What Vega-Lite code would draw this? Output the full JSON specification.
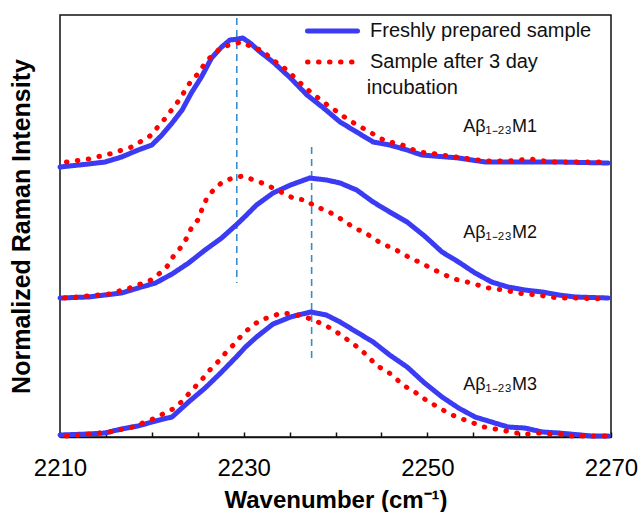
{
  "$schema": "https://vega.github.io/schema/vega-lite/v6.json",
  "width": 551,
  "height": 422,
  "autosize": {"type": "none"},
  "padding": {"left": 60, "top": 15, "right": 27, "bottom": 75},
  "config": {
    "font": "Liberation Sans",
    "view": {"stroke": "#111111", "strokeWidth": 1.5},
    "axis": {"grid": false}
  },
  "datasets": {
    "spectra": [
      {"w": 2210.0, "v": 2.70, "s": "M1", "c": "Freshly prepared sample"},
      {"w": 2213.1, "v": 2.73, "s": "M1", "c": "Freshly prepared sample"},
      {"w": 2214.9, "v": 2.75, "s": "M1", "c": "Freshly prepared sample"},
      {"w": 2216.7, "v": 2.80, "s": "M1", "c": "Freshly prepared sample"},
      {"w": 2218.5, "v": 2.87, "s": "M1", "c": "Freshly prepared sample"},
      {"w": 2220.0, "v": 2.92, "s": "M1", "c": "Freshly prepared sample"},
      {"w": 2221.1, "v": 3.02, "s": "M1", "c": "Freshly prepared sample"},
      {"w": 2222.2, "v": 3.14, "s": "M1", "c": "Freshly prepared sample"},
      {"w": 2223.3, "v": 3.27, "s": "M1", "c": "Freshly prepared sample"},
      {"w": 2224.3, "v": 3.44, "s": "M1", "c": "Freshly prepared sample"},
      {"w": 2225.4, "v": 3.60, "s": "M1", "c": "Freshly prepared sample"},
      {"w": 2226.5, "v": 3.79, "s": "M1", "c": "Freshly prepared sample"},
      {"w": 2227.6, "v": 3.90, "s": "M1", "c": "Freshly prepared sample"},
      {"w": 2228.5, "v": 3.97, "s": "M1", "c": "Freshly prepared sample"},
      {"w": 2229.4, "v": 3.98, "s": "M1", "c": "Freshly prepared sample"},
      {"w": 2229.9, "v": 3.99, "s": "M1", "c": "Freshly prepared sample"},
      {"w": 2230.7, "v": 3.94, "s": "M1", "c": "Freshly prepared sample"},
      {"w": 2231.8, "v": 3.85, "s": "M1", "c": "Freshly prepared sample"},
      {"w": 2233.2, "v": 3.75, "s": "M1", "c": "Freshly prepared sample"},
      {"w": 2235.1, "v": 3.59, "s": "M1", "c": "Freshly prepared sample"},
      {"w": 2236.9, "v": 3.42, "s": "M1", "c": "Freshly prepared sample"},
      {"w": 2238.7, "v": 3.29, "s": "M1", "c": "Freshly prepared sample"},
      {"w": 2240.5, "v": 3.15, "s": "M1", "c": "Freshly prepared sample"},
      {"w": 2242.3, "v": 3.05, "s": "M1", "c": "Freshly prepared sample"},
      {"w": 2244.1, "v": 2.95, "s": "M1", "c": "Freshly prepared sample"},
      {"w": 2245.9, "v": 2.92, "s": "M1", "c": "Freshly prepared sample"},
      {"w": 2247.8, "v": 2.87, "s": "M1", "c": "Freshly prepared sample"},
      {"w": 2249.4, "v": 2.82, "s": "M1", "c": "Freshly prepared sample"},
      {"w": 2253.4, "v": 2.79, "s": "M1", "c": "Freshly prepared sample"},
      {"w": 2256.3, "v": 2.75, "s": "M1", "c": "Freshly prepared sample"},
      {"w": 2260.6, "v": 2.75, "s": "M1", "c": "Freshly prepared sample"},
      {"w": 2264.2, "v": 2.75, "s": "M1", "c": "Freshly prepared sample"},
      {"w": 2269.7, "v": 2.74, "s": "M1", "c": "Freshly prepared sample"},

      {"w": 2210.7, "v": 2.75, "s": "M1", "c": "Sample after 3 day incubation"},
      {"w": 2213.1, "v": 2.78, "s": "M1", "c": "Sample after 3 day incubation"},
      {"w": 2215.4, "v": 2.83, "s": "M1", "c": "Sample after 3 day incubation"},
      {"w": 2217.8, "v": 2.90, "s": "M1", "c": "Sample after 3 day incubation"},
      {"w": 2219.8, "v": 3.01, "s": "M1", "c": "Sample after 3 day incubation"},
      {"w": 2221.4, "v": 3.18, "s": "M1", "c": "Sample after 3 day incubation"},
      {"w": 2222.9, "v": 3.36, "s": "M1", "c": "Sample after 3 day incubation"},
      {"w": 2224.2, "v": 3.55, "s": "M1", "c": "Sample after 3 day incubation"},
      {"w": 2225.1, "v": 3.64, "s": "M1", "c": "Sample after 3 day incubation"},
      {"w": 2225.8, "v": 3.74, "s": "M1", "c": "Sample after 3 day incubation"},
      {"w": 2226.5, "v": 3.81, "s": "M1", "c": "Sample after 3 day incubation"},
      {"w": 2227.5, "v": 3.89, "s": "M1", "c": "Sample after 3 day incubation"},
      {"w": 2228.7, "v": 3.93, "s": "M1", "c": "Sample after 3 day incubation"},
      {"w": 2229.9, "v": 3.95, "s": "M1", "c": "Sample after 3 day incubation"},
      {"w": 2231.0, "v": 3.89, "s": "M1", "c": "Sample after 3 day incubation"},
      {"w": 2232.0, "v": 3.87, "s": "M1", "c": "Sample after 3 day incubation"},
      {"w": 2232.9, "v": 3.79, "s": "M1", "c": "Sample after 3 day incubation"},
      {"w": 2233.8, "v": 3.73, "s": "M1", "c": "Sample after 3 day incubation"},
      {"w": 2234.7, "v": 3.67, "s": "M1", "c": "Sample after 3 day incubation"},
      {"w": 2235.6, "v": 3.59, "s": "M1", "c": "Sample after 3 day incubation"},
      {"w": 2236.5, "v": 3.51, "s": "M1", "c": "Sample after 3 day incubation"},
      {"w": 2237.4, "v": 3.44, "s": "M1", "c": "Sample after 3 day incubation"},
      {"w": 2238.4, "v": 3.37, "s": "M1", "c": "Sample after 3 day incubation"},
      {"w": 2239.4, "v": 3.30, "s": "M1", "c": "Sample after 3 day incubation"},
      {"w": 2240.4, "v": 3.24, "s": "M1", "c": "Sample after 3 day incubation"},
      {"w": 2241.4, "v": 3.17, "s": "M1", "c": "Sample after 3 day incubation"},
      {"w": 2242.4, "v": 3.12, "s": "M1", "c": "Sample after 3 day incubation"},
      {"w": 2243.5, "v": 3.06, "s": "M1", "c": "Sample after 3 day incubation"},
      {"w": 2244.5, "v": 3.01, "s": "M1", "c": "Sample after 3 day incubation"},
      {"w": 2245.6, "v": 2.95, "s": "M1", "c": "Sample after 3 day incubation"},
      {"w": 2246.8, "v": 2.94, "s": "M1", "c": "Sample after 3 day incubation"},
      {"w": 2248.0, "v": 2.89, "s": "M1", "c": "Sample after 3 day incubation"},
      {"w": 2249.1, "v": 2.85, "s": "M1", "c": "Sample after 3 day incubation"},
      {"w": 2250.3, "v": 2.84, "s": "M1", "c": "Sample after 3 day incubation"},
      {"w": 2251.6, "v": 2.82, "s": "M1", "c": "Sample after 3 day incubation"},
      {"w": 2253.9, "v": 2.79, "s": "M1", "c": "Sample after 3 day incubation"},
      {"w": 2256.3, "v": 2.76, "s": "M1", "c": "Sample after 3 day incubation"},
      {"w": 2258.8, "v": 2.76, "s": "M1", "c": "Sample after 3 day incubation"},
      {"w": 2261.2, "v": 2.78, "s": "M1", "c": "Sample after 3 day incubation"},
      {"w": 2263.5, "v": 2.75, "s": "M1", "c": "Sample after 3 day incubation"},
      {"w": 2266.1, "v": 2.75, "s": "M1", "c": "Sample after 3 day incubation"},
      {"w": 2269.5, "v": 2.75, "s": "M1", "c": "Sample after 3 day incubation"},

      {"w": 2210.0, "v": 1.39, "s": "M2", "c": "Freshly prepared sample"},
      {"w": 2213.1, "v": 1.40, "s": "M2", "c": "Freshly prepared sample"},
      {"w": 2216.7, "v": 1.44, "s": "M2", "c": "Freshly prepared sample"},
      {"w": 2218.5, "v": 1.49, "s": "M2", "c": "Freshly prepared sample"},
      {"w": 2220.4, "v": 1.54, "s": "M2", "c": "Freshly prepared sample"},
      {"w": 2222.2, "v": 1.63, "s": "M2", "c": "Freshly prepared sample"},
      {"w": 2224.0, "v": 1.74, "s": "M2", "c": "Freshly prepared sample"},
      {"w": 2225.8, "v": 1.87, "s": "M2", "c": "Freshly prepared sample"},
      {"w": 2227.6, "v": 1.99, "s": "M2", "c": "Freshly prepared sample"},
      {"w": 2229.3, "v": 2.13, "s": "M2", "c": "Freshly prepared sample"},
      {"w": 2230.2, "v": 2.21, "s": "M2", "c": "Freshly prepared sample"},
      {"w": 2231.4, "v": 2.32, "s": "M2", "c": "Freshly prepared sample"},
      {"w": 2233.2, "v": 2.44, "s": "M2", "c": "Freshly prepared sample"},
      {"w": 2235.1, "v": 2.52, "s": "M2", "c": "Freshly prepared sample"},
      {"w": 2237.2, "v": 2.59, "s": "M2", "c": "Freshly prepared sample"},
      {"w": 2239.0, "v": 2.57, "s": "M2", "c": "Freshly prepared sample"},
      {"w": 2240.5, "v": 2.54, "s": "M2", "c": "Freshly prepared sample"},
      {"w": 2242.3, "v": 2.47, "s": "M2", "c": "Freshly prepared sample"},
      {"w": 2244.1, "v": 2.35, "s": "M2", "c": "Freshly prepared sample"},
      {"w": 2245.9, "v": 2.25, "s": "M2", "c": "Freshly prepared sample"},
      {"w": 2247.8, "v": 2.15, "s": "M2", "c": "Freshly prepared sample"},
      {"w": 2249.7, "v": 2.01, "s": "M2", "c": "Freshly prepared sample"},
      {"w": 2251.6, "v": 1.85, "s": "M2", "c": "Freshly prepared sample"},
      {"w": 2253.4, "v": 1.75, "s": "M2", "c": "Freshly prepared sample"},
      {"w": 2255.2, "v": 1.64, "s": "M2", "c": "Freshly prepared sample"},
      {"w": 2257.0, "v": 1.55, "s": "M2", "c": "Freshly prepared sample"},
      {"w": 2258.8, "v": 1.50, "s": "M2", "c": "Freshly prepared sample"},
      {"w": 2260.6, "v": 1.47, "s": "M2", "c": "Freshly prepared sample"},
      {"w": 2262.5, "v": 1.45, "s": "M2", "c": "Freshly prepared sample"},
      {"w": 2264.3, "v": 1.42, "s": "M2", "c": "Freshly prepared sample"},
      {"w": 2266.1, "v": 1.40, "s": "M2", "c": "Freshly prepared sample"},
      {"w": 2269.7, "v": 1.39, "s": "M2", "c": "Freshly prepared sample"},

      {"w": 2210.5, "v": 1.39, "s": "M2", "c": "Sample after 3 day incubation"},
      {"w": 2212.9, "v": 1.41, "s": "M2", "c": "Sample after 3 day incubation"},
      {"w": 2215.3, "v": 1.43, "s": "M2", "c": "Sample after 3 day incubation"},
      {"w": 2217.6, "v": 1.49, "s": "M2", "c": "Sample after 3 day incubation"},
      {"w": 2219.9, "v": 1.57, "s": "M2", "c": "Sample after 3 day incubation"},
      {"w": 2220.9, "v": 1.64, "s": "M2", "c": "Sample after 3 day incubation"},
      {"w": 2221.7, "v": 1.71, "s": "M2", "c": "Sample after 3 day incubation"},
      {"w": 2222.3, "v": 1.80, "s": "M2", "c": "Sample after 3 day incubation"},
      {"w": 2223.1, "v": 1.89, "s": "M2", "c": "Sample after 3 day incubation"},
      {"w": 2223.8, "v": 1.99, "s": "M2", "c": "Sample after 3 day incubation"},
      {"w": 2224.3, "v": 2.09, "s": "M2", "c": "Sample after 3 day incubation"},
      {"w": 2225.1, "v": 2.18, "s": "M2", "c": "Sample after 3 day incubation"},
      {"w": 2225.5, "v": 2.29, "s": "M2", "c": "Sample after 3 day incubation"},
      {"w": 2226.0, "v": 2.39, "s": "M2", "c": "Sample after 3 day incubation"},
      {"w": 2226.8, "v": 2.48, "s": "M2", "c": "Sample after 3 day incubation"},
      {"w": 2227.7, "v": 2.55, "s": "M2", "c": "Sample after 3 day incubation"},
      {"w": 2228.8, "v": 2.59, "s": "M2", "c": "Sample after 3 day incubation"},
      {"w": 2229.9, "v": 2.61, "s": "M2", "c": "Sample after 3 day incubation"},
      {"w": 2231.1, "v": 2.57, "s": "M2", "c": "Sample after 3 day incubation"},
      {"w": 2232.3, "v": 2.53, "s": "M2", "c": "Sample after 3 day incubation"},
      {"w": 2233.4, "v": 2.48, "s": "M2", "c": "Sample after 3 day incubation"},
      {"w": 2234.5, "v": 2.43, "s": "M2", "c": "Sample after 3 day incubation"},
      {"w": 2235.6, "v": 2.38, "s": "M2", "c": "Sample after 3 day incubation"},
      {"w": 2236.8, "v": 2.37, "s": "M2", "c": "Sample after 3 day incubation"},
      {"w": 2237.8, "v": 2.30, "s": "M2", "c": "Sample after 3 day incubation"},
      {"w": 2239.0, "v": 2.27, "s": "M2", "c": "Sample after 3 day incubation"},
      {"w": 2240.0, "v": 2.21, "s": "M2", "c": "Sample after 3 day incubation"},
      {"w": 2241.0, "v": 2.16, "s": "M2", "c": "Sample after 3 day incubation"},
      {"w": 2242.0, "v": 2.09, "s": "M2", "c": "Sample after 3 day incubation"},
      {"w": 2243.1, "v": 2.05, "s": "M2", "c": "Sample after 3 day incubation"},
      {"w": 2244.1, "v": 1.99, "s": "M2", "c": "Sample after 3 day incubation"},
      {"w": 2245.1, "v": 1.93, "s": "M2", "c": "Sample after 3 day incubation"},
      {"w": 2246.2, "v": 1.89, "s": "M2", "c": "Sample after 3 day incubation"},
      {"w": 2247.2, "v": 1.84, "s": "M2", "c": "Sample after 3 day incubation"},
      {"w": 2248.3, "v": 1.78, "s": "M2", "c": "Sample after 3 day incubation"},
      {"w": 2249.4, "v": 1.74, "s": "M2", "c": "Sample after 3 day incubation"},
      {"w": 2250.3, "v": 1.69, "s": "M2", "c": "Sample after 3 day incubation"},
      {"w": 2251.5, "v": 1.64, "s": "M2", "c": "Sample after 3 day incubation"},
      {"w": 2252.6, "v": 1.59, "s": "M2", "c": "Sample after 3 day incubation"},
      {"w": 2253.7, "v": 1.56, "s": "M2", "c": "Sample after 3 day incubation"},
      {"w": 2254.9, "v": 1.54, "s": "M2", "c": "Sample after 3 day incubation"},
      {"w": 2256.1, "v": 1.50, "s": "M2", "c": "Sample after 3 day incubation"},
      {"w": 2257.3, "v": 1.48, "s": "M2", "c": "Sample after 3 day incubation"},
      {"w": 2258.5, "v": 1.47, "s": "M2", "c": "Sample after 3 day incubation"},
      {"w": 2259.7, "v": 1.44, "s": "M2", "c": "Sample after 3 day incubation"},
      {"w": 2260.9, "v": 1.43, "s": "M2", "c": "Sample after 3 day incubation"},
      {"w": 2262.1, "v": 1.42, "s": "M2", "c": "Sample after 3 day incubation"},
      {"w": 2263.3, "v": 1.40, "s": "M2", "c": "Sample after 3 day incubation"},
      {"w": 2264.5, "v": 1.39, "s": "M2", "c": "Sample after 3 day incubation"},
      {"w": 2265.6, "v": 1.39, "s": "M2", "c": "Sample after 3 day incubation"},
      {"w": 2266.8, "v": 1.39, "s": "M2", "c": "Sample after 3 day incubation"},
      {"w": 2268.1, "v": 1.38, "s": "M2", "c": "Sample after 3 day incubation"},
      {"w": 2269.4, "v": 1.39, "s": "M2", "c": "Sample after 3 day incubation"},

      {"w": 2210.0, "v": 0.02, "s": "M3", "c": "Freshly prepared sample"},
      {"w": 2213.1, "v": 0.03, "s": "M3", "c": "Freshly prepared sample"},
      {"w": 2214.9, "v": 0.04, "s": "M3", "c": "Freshly prepared sample"},
      {"w": 2216.7, "v": 0.08, "s": "M3", "c": "Freshly prepared sample"},
      {"w": 2218.5, "v": 0.11, "s": "M3", "c": "Freshly prepared sample"},
      {"w": 2220.4, "v": 0.16, "s": "M3", "c": "Freshly prepared sample"},
      {"w": 2222.2, "v": 0.20, "s": "M3", "c": "Freshly prepared sample"},
      {"w": 2224.0, "v": 0.35, "s": "M3", "c": "Freshly prepared sample"},
      {"w": 2225.8, "v": 0.49, "s": "M3", "c": "Freshly prepared sample"},
      {"w": 2227.6, "v": 0.65, "s": "M3", "c": "Freshly prepared sample"},
      {"w": 2229.4, "v": 0.82, "s": "M3", "c": "Freshly prepared sample"},
      {"w": 2230.2, "v": 0.90, "s": "M3", "c": "Freshly prepared sample"},
      {"w": 2231.4, "v": 1.00, "s": "M3", "c": "Freshly prepared sample"},
      {"w": 2233.2, "v": 1.13, "s": "M3", "c": "Freshly prepared sample"},
      {"w": 2235.1, "v": 1.20, "s": "M3", "c": "Freshly prepared sample"},
      {"w": 2237.3, "v": 1.25, "s": "M3", "c": "Freshly prepared sample"},
      {"w": 2239.0, "v": 1.22, "s": "M3", "c": "Freshly prepared sample"},
      {"w": 2240.5, "v": 1.15, "s": "M3", "c": "Freshly prepared sample"},
      {"w": 2242.3, "v": 1.05, "s": "M3", "c": "Freshly prepared sample"},
      {"w": 2244.1, "v": 0.95, "s": "M3", "c": "Freshly prepared sample"},
      {"w": 2245.9, "v": 0.82, "s": "M3", "c": "Freshly prepared sample"},
      {"w": 2247.8, "v": 0.70, "s": "M3", "c": "Freshly prepared sample"},
      {"w": 2249.7, "v": 0.54, "s": "M3", "c": "Freshly prepared sample"},
      {"w": 2251.6, "v": 0.40, "s": "M3", "c": "Freshly prepared sample"},
      {"w": 2253.4, "v": 0.29, "s": "M3", "c": "Freshly prepared sample"},
      {"w": 2255.2, "v": 0.20, "s": "M3", "c": "Freshly prepared sample"},
      {"w": 2257.0, "v": 0.15, "s": "M3", "c": "Freshly prepared sample"},
      {"w": 2258.8, "v": 0.10, "s": "M3", "c": "Freshly prepared sample"},
      {"w": 2260.6, "v": 0.09, "s": "M3", "c": "Freshly prepared sample"},
      {"w": 2262.5, "v": 0.05, "s": "M3", "c": "Freshly prepared sample"},
      {"w": 2264.3, "v": 0.04, "s": "M3", "c": "Freshly prepared sample"},
      {"w": 2267.9, "v": 0.01, "s": "M3", "c": "Freshly prepared sample"},
      {"w": 2269.7, "v": 0.01, "s": "M3", "c": "Freshly prepared sample"},

      {"w": 2210.7, "v": 0.01, "s": "M3", "c": "Sample after 3 day incubation"},
      {"w": 2213.0, "v": 0.03, "s": "M3", "c": "Sample after 3 day incubation"},
      {"w": 2215.4, "v": 0.05, "s": "M3", "c": "Sample after 3 day incubation"},
      {"w": 2217.9, "v": 0.10, "s": "M3", "c": "Sample after 3 day incubation"},
      {"w": 2220.1, "v": 0.18, "s": "M3", "c": "Sample after 3 day incubation"},
      {"w": 2221.2, "v": 0.23, "s": "M3", "c": "Sample after 3 day incubation"},
      {"w": 2222.3, "v": 0.28, "s": "M3", "c": "Sample after 3 day incubation"},
      {"w": 2223.2, "v": 0.35, "s": "M3", "c": "Sample after 3 day incubation"},
      {"w": 2224.1, "v": 0.44, "s": "M3", "c": "Sample after 3 day incubation"},
      {"w": 2224.9, "v": 0.52, "s": "M3", "c": "Sample after 3 day incubation"},
      {"w": 2225.7, "v": 0.60, "s": "M3", "c": "Sample after 3 day incubation"},
      {"w": 2226.5, "v": 0.69, "s": "M3", "c": "Sample after 3 day incubation"},
      {"w": 2227.4, "v": 0.77, "s": "M3", "c": "Sample after 3 day incubation"},
      {"w": 2228.2, "v": 0.86, "s": "M3", "c": "Sample after 3 day incubation"},
      {"w": 2229.1, "v": 0.94, "s": "M3", "c": "Sample after 3 day incubation"},
      {"w": 2229.9, "v": 1.03, "s": "M3", "c": "Sample after 3 day incubation"},
      {"w": 2230.8, "v": 1.10, "s": "M3", "c": "Sample after 3 day incubation"},
      {"w": 2231.8, "v": 1.17, "s": "M3", "c": "Sample after 3 day incubation"},
      {"w": 2232.9, "v": 1.20, "s": "M3", "c": "Sample after 3 day incubation"},
      {"w": 2234.1, "v": 1.24, "s": "M3", "c": "Sample after 3 day incubation"},
      {"w": 2235.3, "v": 1.23, "s": "M3", "c": "Sample after 3 day incubation"},
      {"w": 2236.4, "v": 1.21, "s": "M3", "c": "Sample after 3 day incubation"},
      {"w": 2237.6, "v": 1.17, "s": "M3", "c": "Sample after 3 day incubation"},
      {"w": 2238.8, "v": 1.12, "s": "M3", "c": "Sample after 3 day incubation"},
      {"w": 2239.8, "v": 1.07, "s": "M3", "c": "Sample after 3 day incubation"},
      {"w": 2240.9, "v": 1.00, "s": "M3", "c": "Sample after 3 day incubation"},
      {"w": 2241.8, "v": 0.94, "s": "M3", "c": "Sample after 3 day incubation"},
      {"w": 2242.8, "v": 0.87, "s": "M3", "c": "Sample after 3 day incubation"},
      {"w": 2243.7, "v": 0.79, "s": "M3", "c": "Sample after 3 day incubation"},
      {"w": 2244.5, "v": 0.71, "s": "M3", "c": "Sample after 3 day incubation"},
      {"w": 2245.6, "v": 0.66, "s": "M3", "c": "Sample after 3 day incubation"},
      {"w": 2246.5, "v": 0.59, "s": "M3", "c": "Sample after 3 day incubation"},
      {"w": 2247.5, "v": 0.51, "s": "M3", "c": "Sample after 3 day incubation"},
      {"w": 2248.5, "v": 0.46, "s": "M3", "c": "Sample after 3 day incubation"},
      {"w": 2249.5, "v": 0.39, "s": "M3", "c": "Sample after 3 day incubation"},
      {"w": 2251.5, "v": 0.28, "s": "M3", "c": "Sample after 3 day incubation"},
      {"w": 2252.7, "v": 0.22, "s": "M3", "c": "Sample after 3 day incubation"},
      {"w": 2253.8, "v": 0.18, "s": "M3", "c": "Sample after 3 day incubation"},
      {"w": 2255.0, "v": 0.14, "s": "M3", "c": "Sample after 3 day incubation"},
      {"w": 2256.2, "v": 0.10, "s": "M3", "c": "Sample after 3 day incubation"},
      {"w": 2257.4, "v": 0.08, "s": "M3", "c": "Sample after 3 day incubation"},
      {"w": 2258.6, "v": 0.06, "s": "M3", "c": "Sample after 3 day incubation"},
      {"w": 2259.7, "v": 0.04, "s": "M3", "c": "Sample after 3 day incubation"},
      {"w": 2260.9, "v": 0.03, "s": "M3", "c": "Sample after 3 day incubation"},
      {"w": 2262.1, "v": 0.04, "s": "M3", "c": "Sample after 3 day incubation"},
      {"w": 2263.3, "v": 0.03, "s": "M3", "c": "Sample after 3 day incubation"},
      {"w": 2264.5, "v": 0.03, "s": "M3", "c": "Sample after 3 day incubation"},
      {"w": 2265.6, "v": 0.01, "s": "M3", "c": "Sample after 3 day incubation"},
      {"w": 2266.8, "v": 0.01, "s": "M3", "c": "Sample after 3 day incubation"},
      {"w": 2268.1, "v": 0.01, "s": "M3", "c": "Sample after 3 day incubation"},
      {"w": 2269.4, "v": 0.01, "s": "M3", "c": "Sample after 3 day incubation"}
    ],
    "peaks": [
      {"w": 2229.25, "top": 4.19, "bottom": 1.54},
      {"w": 2237.4, "top": 2.90, "bottom": 0.77}
    ],
    "labels": [
      {"w": 2253.9, "v": 3.10, "label": "Aβ₁₋₂₃M1", "size": "big"},
      {"w": 2253.9, "v": 2.04, "label": "Aβ₁₋₂₃M2", "size": "big"},
      {"w": 2253.9, "v": 0.52, "label": "Aβ₁₋₂₃M3", "size": "big"}
    ],
    "legendwrap": [
      {"w": 2243.4, "v": 3.49, "label": "incubation"}
    ]
  },
  "layer": [
    {
      "data": {"name": "peaks"},
      "mark": {"type": "rule", "color": "#3a8cc8", "strokeWidth": 1.6, "strokeDash": [7, 5]},
      "encoding": {
        "x": {
          "field": "w", "type": "quantitative",
          "scale": {"domain": [2210, 2270], "nice": false, "zero": false},
          "axis": {
            "title": "Wavenumber (cm⁻¹)",
            "titleFontSize": 24, "titleFontWeight": "bold", "titleColor": "#000000",
            "titleY": 70, "titleBaseline": "alphabetic",
            "values": [2210, 2215, 2220, 2225, 2230, 2235, 2240, 2245, 2250, 2255, 2260, 2265, 2270],
            "format": "d",
            "labelExpr": "datum.value % 20 == 10 ? datum.label : ''",
            "labelFontSize": 24, "labelColor": "#000000", "labelPadding": 24,
            "labelFlush": false, "labelOverlap": false,
            "tickSize": -5, "tickColor": "#111111", "tickWidth": 1.5,
            "domainColor": "#111111", "domainWidth": 1.5
          }
        },
        "y": {
          "field": "top", "type": "quantitative",
          "scale": {"domain": [0, 4.22], "nice": false, "zero": false},
          "axis": {
            "title": "Normalized Raman Intensity",
            "titleFontSize": 25, "titleFontWeight": "bold", "titleColor": "#000000",
            "titlePadding": 26,
            "labels": false, "ticks": false, "domain": false
          }
        },
        "y2": {"field": "bottom"}
      }
    },
    {
      "data": {"name": "spectra"},
      "transform": [{"filter": "datum.c == 'Freshly prepared sample'"}],
      "mark": {"type": "line", "strokeWidth": 5, "strokeCap": "round", "strokeJoin": "round"},
      "encoding": {
        "x": {"field": "w", "type": "quantitative"},
        "y": {"field": "v", "type": "quantitative"},
        "detail": {"field": "s"},
        "color": {
          "field": "c", "type": "nominal",
          "scale": {"domain": ["Freshly prepared sample", "Sample after 3 day incubation"], "range": ["#3b3bf4", "#ff0000"]},
          "legend": {
            "title": null, "orient": "none", "legendX": 245, "legendY": 6,
            "padding": 0, "symbolType": "stroke", "symbolSize": 2500, "symbolStrokeWidth": 5,
            "clipHeight": 20,
            "labelFontSize": 20, "labelColor": "#111111", "labelOffset": 10, "labelLimit": 400,
            "rowPadding": 11, "labelBaseline": "middle",
            "labelExpr": "datum.label == 'Sample after 3 day incubation' ? 'Sample after 3 day' : datum.label",
            "encoding": {"symbols": {"strokeCap": {"value": "round"}}}
          }
        },
        "strokeDash": {
          "field": "c", "type": "nominal",
          "scale": {"domain": ["Freshly prepared sample", "Sample after 3 day incubation"], "range": [[1, 0], [0.5, 10.5]]}
        }
      }
    },
    {
      "data": {"name": "spectra"},
      "transform": [{"filter": "datum.c != 'Freshly prepared sample'"}],
      "mark": {"type": "line", "strokeWidth": 5, "strokeCap": "round"},
      "encoding": {
        "x": {"field": "w", "type": "quantitative"},
        "y": {"field": "v", "type": "quantitative"},
        "detail": {"field": "s"},
        "color": {"field": "c", "type": "nominal"},
        "strokeDash": {"field": "c", "type": "nominal"}
      }
    },
    {
      "data": {"name": "labels"},
      "mark": {"type": "text", "align": "left", "baseline": "middle", "fontSize": 18, "color": "#111111"},
      "encoding": {
        "x": {"field": "w", "type": "quantitative"},
        "y": {"field": "v", "type": "quantitative"},
        "text": {"field": "label"}
      }
    },
    {
      "data": {"name": "legendwrap"},
      "mark": {"type": "text", "align": "left", "baseline": "middle", "fontSize": 20, "color": "#111111"},
      "encoding": {
        "x": {"field": "w", "type": "quantitative"},
        "y": {"field": "v", "type": "quantitative"},
        "text": {"field": "label"}
      }
    }
  ]
}
